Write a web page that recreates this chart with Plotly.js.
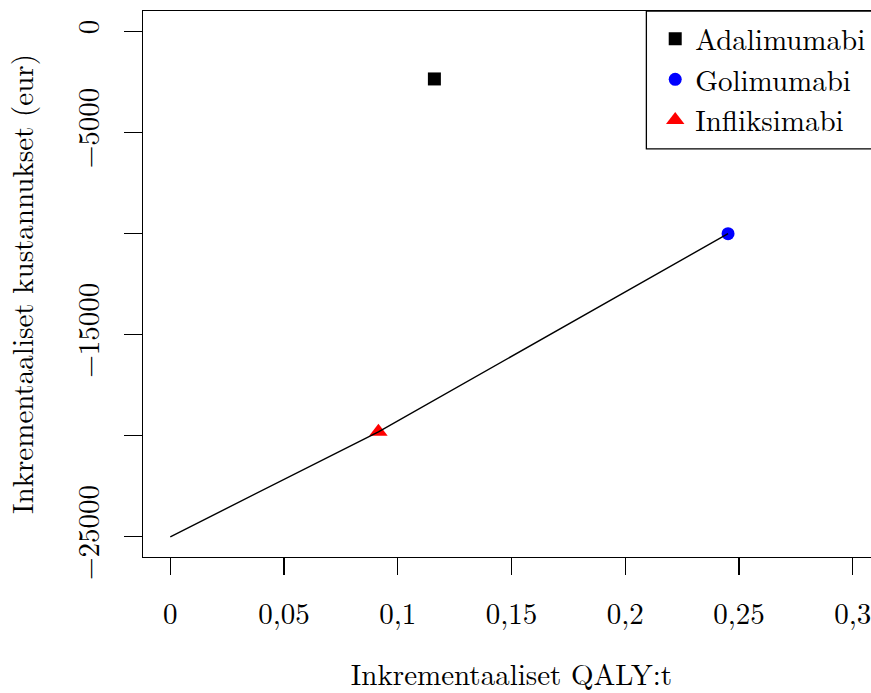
<!DOCTYPE html>
<html>
<head>
<meta charset="utf-8">
<script src="https://cdn.plot.ly/plotly-3.0.1.min.js"></script>
<style>
  html, body { margin: 0; padding: 0; background: #fff; overflow: hidden; }
  #chart { width: 882px; height: 693px; }
</style>
</head>
<body>
<div id="chart"></div>
<script>
// Treatments compared against the reference strategy
const drugs = ['Adalimumabi', 'Golimumabi', 'Infliksimabi'];
const qaly = [0.1161, 0.2452, 0.0915];
const cost = [-2360, -10010, -19810];
const symbols = ['square', 'circle', 'triangle-up'];
const colors = ['#000000', '#0000ff', '#ff0000'];
const sizes = [13, 13, 16];

// Reference point where the frontier starts
const baseQaly = 0;
const baseCost = -25000;
// Frontier passes through these treatments, in order
const frontierOrder = ['Infliksimabi', 'Golimumabi'];

// Axis ticks
const xTickVals = [0, 0.05, 0.1, 0.15, 0.2, 0.25, 0.3];
const xTickText = ['0', '0,05', '0,1', '0,15', '0,2', '0,25', '0,3'];
const yTickVals = [0, -5000, -10000, -15000, -20000, -25000];
const yTickText = ['0', '\u22125000', '', '\u221215000', '', '\u221225000'];

const FONT = 'Latin Modern Roman';
const FS = 29;

const traces = drugs.map((d, i) => ({
  type: 'scatter',
  mode: 'markers',
  name: d,
  x: [qaly[i]],
  y: [cost[i]],
  marker: { symbol: symbols[i], color: colors[i], size: sizes[i], line: { width: 0 } },
  hoverinfo: 'name+x+y'
}));

const fx = [baseQaly].concat(frontierOrder.map(n => qaly[drugs.indexOf(n)]));
const fy = [baseCost].concat(frontierOrder.map(n => cost[drugs.indexOf(n)]));
traces.push({
  type: 'scatter',
  mode: 'lines',
  x: fx,
  y: fy,
  line: { color: '#000000', width: 1.4 },
  showlegend: false,
  hoverinfo: 'skip'
});

const layout = {
  width: 882,
  height: 693,
  margin: { l: 143, r: 2, t: 11, b: 136 },
  paper_bgcolor: '#ffffff',
  plot_bgcolor: '#ffffff',
  font: { family: FONT, size: FS, color: '#000000' },
  showlegend: true,
  legend: {
    x: 0.695, xanchor: 'left',
    y: 0.874, yanchor: 'middle',
    bgcolor: 'rgba(0,0,0,0)',
    borderwidth: 0,
    font: { family: FONT, size: FS, color: '#000000' },
    itemwidth: 30
  },
  xaxis: {
    range: [-0.012, 0.312],
    tickvals: xTickVals,
    ticktext: xTickText,
    ticks: 'outside',
    ticklen: 17,
    tickwidth: 1.3,
    tickcolor: '#000',
    ticklabelstandoff: 14,
    showline: true,
    mirror: true,
    linecolor: '#000',
    linewidth: 1.3,
    showgrid: false,
    zeroline: false,
    tickfont: { family: FONT, size: FS },
    title: { text: 'Inkrementaaliset QALY:t', font: { family: FONT, size: FS }, standoff: 46 }
  },
  yaxis: {
    range: [-26000, 1000],
    tickvals: yTickVals,
    ticktext: yTickText,
    tickangle: -90,
    ticks: 'outside',
    ticklen: 18,
    tickwidth: 1.3,
    tickcolor: '#000',
    ticklabelstandoff: 13,
    showline: true,
    mirror: true,
    linecolor: '#000',
    linewidth: 1.3,
    showgrid: false,
    zeroline: false,
    tickfont: { family: FONT, size: FS },
    title: { text: 'Inkrementaaliset kustannukset (eur)', font: { family: FONT, size: FS }, standoff: 32 }
  },
  shapes: [{
    type: 'rect',
    xref: 'paper', yref: 'paper',
    x0: 0.683, x1: 1.2, y0: 0.7474, y1: 1,
    line: { color: '#000', width: 1.3 },
    fillcolor: 'rgba(0,0,0,0)',
    layer: 'above'
  }]
};

Plotly.newPlot('chart', traces, layout, { displayModeBar: false, staticPlot: true });
</script>
</body>
</html>
